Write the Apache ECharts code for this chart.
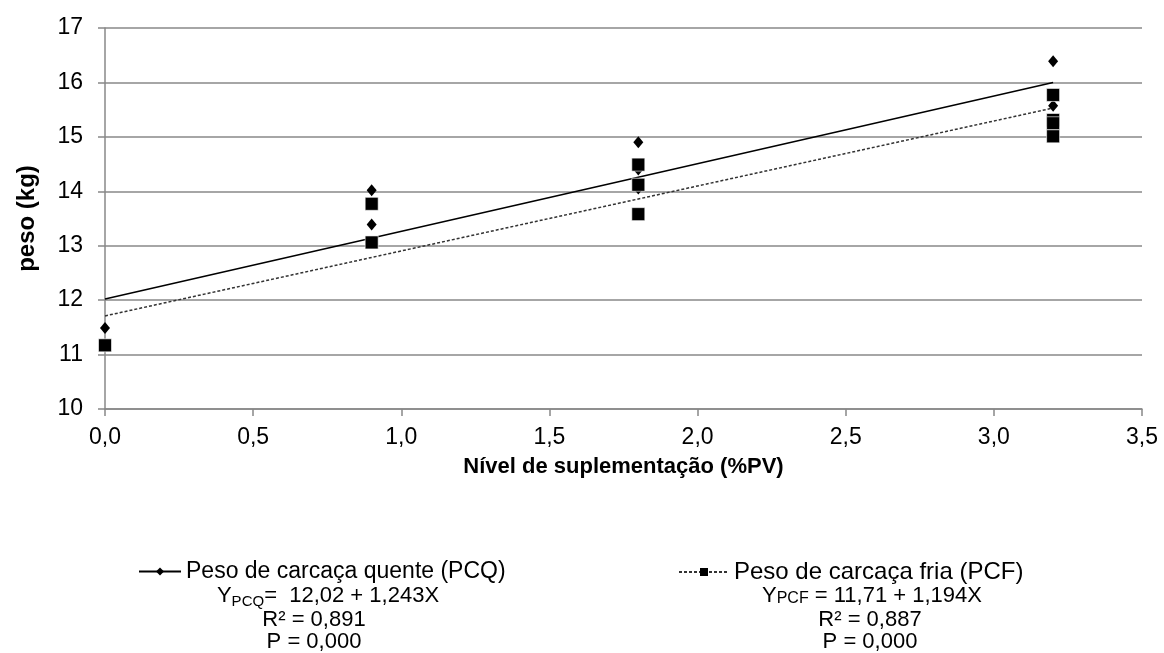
<!DOCTYPE html>
<html><head><meta charset="utf-8">
<script src="https://cdn.jsdelivr.net/npm/echarts@6/dist/echarts.min.js"></script>
<style>html,body{margin:0;padding:0;background:#fff}#c{width:1164px;height:653px}</style>
</head><body><div id="c"></div>
<script>
const xTicks = [0, 0.5, 1, 1.5, 2, 2.5, 3, 3.5];
const pcqPoints = [[0, 11.49], [0.9, 14.02], [0.9, 13.39], [1.8, 14.9], [1.8, 14.4], [1.8, 14.05], [3.2, 16.39], [3.2, 15.57]];
const pcfPoints = [[0, 11.17], [0.9, 13.77], [0.9, 13.06], [1.8, 14.49], [1.8, 14.12], [1.8, 13.58], [3.2, 15.77], [3.2, 15.31], [3.2, 15.25], [3.2, 15.01]];
const pcqLine = [[0, 12.02], [3.2, 16.0]];
const pcfLine = [[0, 11.71], [3.2, 15.53]];
const nameQ = 'Peso de carcaça quente (PCQ)';
const nameF = 'Peso de carcaça fria (PCF)';
const F = 'Liberation Sans, Arial, sans-serif';

const chart = echarts.init(document.getElementById('c'));
chart.setOption({
  animation: false,
  grid: {left: 105, right: 22, top: 28, bottom: 244},
  xAxis: {
    type: 'value', min: 0, max: 3.5, interval: 0.5,
    name: 'Nível de suplementação (%PV)', nameLocation: 'middle', nameGap: 47,
    nameTextStyle: {fontFamily: F, fontSize: 22, fontWeight: 'bold', color: '#000'},
    axisLine: {show: true, lineStyle: {color: '#888', width: 1.5}},
    axisTick: {show: true, length: 7, lineStyle: {color: '#888', width: 1.5}},
    axisLabel: {fontFamily: F, fontSize: 23, color: '#000', margin: 17,
      formatter: v => v.toFixed(1).replace('.', ',')},
    splitLine: {show: false}
  },
  yAxis: {
    type: 'value', min: 10, max: 17, interval: 1,
    name: 'peso (kg)', nameLocation: 'middle', nameGap: 66, nameRotate: 90,
    nameTextStyle: {fontFamily: F, fontSize: 24, fontWeight: 'bold', color: '#000'},
    axisLine: {show: true, lineStyle: {color: '#888', width: 1.5}},
    axisTick: {show: true, length: 7, lineStyle: {color: '#888', width: 1.5}},
    axisLabel: {fontFamily: F, fontSize: 23, color: '#000', margin: 22},
    splitLine: {show: true, lineStyle: {color: '#888', width: 1.5}}
  },
  legend: [
    {left: 133, top: 555, itemWidth: 42, itemHeight: 10, itemGap: 10,
     textStyle: {fontFamily: F, fontSize: 23, color: '#000'}, data: [nameQ]},
    {left: 673, top: 555, itemWidth: 50, itemHeight: 10,
     textStyle: {fontFamily: F, fontSize: 24, color: '#000'}, data: [nameF]}
  ],
  series: [
    {name: nameQ, type: 'line', data: pcqLine, symbol: 'diamond', symbolSize: 9, showSymbol: false,
     lineStyle: {color: '#000', width: 1.5}, itemStyle: {color: '#000'}, z: 2},
    {name: nameF, type: 'line', data: pcfLine, symbol: 'rect', symbolSize: 10, showSymbol: false,
     lineStyle: {color: '#333', width: 1.5, type: [3, 2]}, itemStyle: {color: '#000'}, z: 2},
    {name: nameQ, type: 'scatter', data: pcqPoints, symbol: 'diamond', symbolSize: [10, 12],
     itemStyle: {color: '#000', opacity: 1}, z: 3},
    {name: nameF, type: 'scatter', data: pcfPoints, symbol: 'rect', symbolSize: 13,
     itemStyle: {color: '#000', opacity: 1, borderColor: '#fff', borderWidth: 0.6}, z: 4}
  ],
  graphic: [
    {type: 'text', x: 328, y: 596, style: {
      text: '{y|Y}{s|PCQ}{y|=  12,02 + 1,243X}', fontFamily: F, fill: '#000', align: 'center', verticalAlign: 'middle',
      rich: {y: {fontSize: 22, fontFamily: F}, s: {fontSize: 15, fontFamily: F, padding: [11, 0, 0, 0]}}}},
    {type: 'text', x: 314, y: 620, style: {text: 'R² = 0,891', fontFamily: F, fontSize: 22, fill: '#000', align: 'center', verticalAlign: 'middle'}},
    {type: 'text', x: 314, y: 642, style: {text: 'P = 0,000', fontFamily: F, fontSize: 22, fill: '#000', align: 'center', verticalAlign: 'middle'}},
    {type: 'text', x: 872, y: 596, style: {
      text: '{y|Y}{s|PCF}{y| = 11,71 + 1,194X}', fontFamily: F, fill: '#000', align: 'center', verticalAlign: 'middle',
      rich: {y: {fontSize: 22, fontFamily: F}, s: {fontSize: 16, fontFamily: F, padding: [5, 0, 0, 0]}}}},
    {type: 'text', x: 870, y: 620, style: {text: 'R² = 0,887', fontFamily: F, fontSize: 22, fill: '#000', align: 'center', verticalAlign: 'middle'}},
    {type: 'text', x: 870, y: 642, style: {text: 'P = 0,000', fontFamily: F, fontSize: 22, fill: '#000', align: 'center', verticalAlign: 'middle'}}
  ]
});
</script></body></html>
